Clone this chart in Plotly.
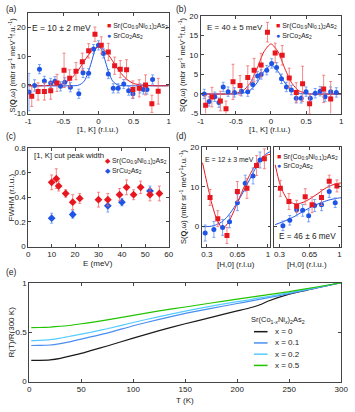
import plotly.graph_objects as go

W, H = 355, 412
FONT = "Liberation Sans, Arial, sans-serif"
RED = "#e8161e"
RED_ERR = "#f26b6b"
BLUE = "#1f55e6"
BLUE_ERR = "#5f8ff2"
TXT = "#222222"

# ---- (a) E = 10 meV, [1,K] cut ----
a_ni_k = [-0.95, -0.86, -0.77, -0.68, -0.59, -0.49, -0.41, -0.32, -0.23, -0.14, -0.05,
          0.04, 0.14, 0.23, 0.31, 0.40, 0.49, 0.58, 0.67, 0.76, 0.85]
a_ni_s = [-4.0, -2.3, -2.3, -2.0, 0.7, 5.1, 2.3, 4.8, 8.1, 11.9, 17.7,
          13.8, 11.5, 6.7, 5.5, 5.3, -1.6, -1.2, 0.0, -6.6, -2.2]
a_ni_err = [3.5, 3, 3, 3, 3, 6, 3, 3, 3, 2.5, 2.5, 3, 3, 3, 3, 3.5, 3, 3, 3.5, 3, 4.5]
a_co_k = [-0.99, -0.91, -0.84, -0.77, -0.68, -0.62, -0.54, -0.48, -0.40, -0.28, -0.22, -0.14,
          -0.07, 0.0, 0.07, 0.14, 0.21, 0.28, 0.36, 0.43, 0.49, 0.59, 0.64, 0.69, 0.77]
a_co_s = [-2.5, -0.2, 5.5, 1.4, 0.7, 1.3, -0.5, 0.9, -0.8, -3.1, 4.2, 4.1,
          12.5, 13.8, 11.0, 3.8, -1.2, -1.2, 0.3, -2.0, -3.1, -1.2, -1.6, -1.6, 1.9]
a_co_err = [6.5, 2] + [1.6] * 23
a_fit_k_ni = [-1, -0.8, -0.6, -0.5, -0.4, -0.3, -0.2, -0.1, 0, 0.1, 0.2, 0.3, 0.4, 0.5, 0.6, 0.8, 1]
a_fit_ni = [-0.3, -0.3, 0.0, 0.5, 2.0, 4.7, 8.4, 11.8, 13.3, 11.8, 8.4, 4.7, 2.0, 0.5, 0.0, -0.3, -0.3]
a_fit_k_co = [-1, -0.4, -0.3, -0.25, -0.2, -0.15, -0.1, -0.05, 0, 0.05, 0.1, 0.15, 0.2, 0.25, 0.3, 0.4, 1]
a_fit_co = [-0.3, -0.3, -0.2, 0.3, 1.4, 4.1, 8.0, 12.0, 13.7, 12.0, 8.0, 4.1, 1.4, 0.3, -0.2, -0.3, -0.3]

# ---- (b) E = 40 meV ----
b_ni_k = [-0.93, -0.84, -0.72, -0.64, -0.54, -0.44, -0.33, -0.24, -0.14, -0.05,
          0.06, 0.16, 0.26, 0.36, 0.45, 0.55, 0.75, 0.85]
b_ni_s = [-2.9, -0.8, -1.8, -3.8, 3.1, 2.2, 4.2, 6.1, 7.4, 15.8,
          10.5, 9.9, 4.1, 0.4, 2.6, -2.5, 1.3, -1.3]
b_ni_err = [2.5, 2.5, 2.5, 2, 4.5, 2.5, 3, 3, 3, 2.5, 2.5, 2.5, 2.5, 2.5, 4.5, 2.5, 3.5, 4.5]
b_co_k = [-0.95, -0.88, -0.8, -0.74, -0.68, -0.61, -0.52, -0.42, -0.33, -0.26, -0.19, -0.14,
          -0.06, 0.01, 0.08, 0.15, 0.22, 0.29, 0.36, 0.43, 0.5, 0.56, 0.63, 0.7, 0.77, 0.85, 0.93]
b_co_s = [0.0, -1.9, -0.7, -2.2, 1.8, 0.6, 0.4, 0.7, 0.6, 2.4, 4.6, 5.0,
          6.1, 7.8, 6.8, 3.9, 1.8, 1.0, -1.1, -1.1, 0.6, -1.1, 0.2, 0.7, -0.7, 0.6, 0.4]
b_co_err = [1.2] * 27
b_fit_k = [-1, -0.6, -0.5, -0.4, -0.3, -0.2, -0.1, 0, 0.1, 0.2, 0.3, 0.4, 0.5, 0.6, 1]
b_fit_ni = [0.0, 0.0, 0.2, 0.8, 2.7, 6.4, 10.8, 12.8, 10.8, 6.4, 2.7, 0.8, 0.2, 0.0, 0.0]
b_fit_co = [0.0, 0.0, 0.0, 0.2, 0.9, 2.8, 5.8, 7.3, 5.8, 2.8, 0.9, 0.2, 0.0, 0.0, 0.0]

# ---- (c) peak width vs energy ----
c_ni_e = [10, 12, 13, 16, 19, 22, 30, 34, 39, 42, 45, 48, 52, 56]
c_ni_w = [0.52, 0.55, 0.49, 0.43, 0.36, 0.39, 0.38, 0.38, 0.42, 0.48, 0.42, 0.48, 0.42, 0.43]
c_ni_err = [0.06, 0.08, 0.04, 0.03, 0.06, 0.04, 0.06, 0.05, 0.05, 0.06, 0.04, 0.05, 0.05, 0.06]
c_co_e = [10, 19, 34, 40, 52]
c_co_w = [0.23, 0.26, 0.33, 0.36, 0.45]
c_co_err = [0.04, 0.03, 0.05, 0.03, 0.04]

# ---- (d) [H,0] cuts ----
dl_ni_h = [0.336, 0.425, 0.53, 0.65, 0.76, 0.87, 0.96]
dl_ni_s = [7.3, 2.0, -2.2, 8.8, 9.6, 15.3, 17.0]
dl_ni_err = [2, 2, 2, 2.5, 2.5, 2.5, 2.5]
dl_co_h = [0.28, 0.38, 0.48, 0.56, 0.65, 0.74, 0.83, 0.91]
dl_co_s = [-1.6, -0.7, -0.2, 1.2, 6.0, 10.9, 12.7, 16.7]
dl_co_err = [2, 2, 2, 1.5, 2, 2, 2, 2]
d_fit_h = [0.25, 0.3, 0.35, 0.4, 0.45, 0.48, 0.5, 0.55, 0.6, 0.65, 0.7, 0.75, 0.8, 0.85, 0.9, 0.95, 1.0, 1.03]
dl_fit_ni = [16.0, 11.0, 6.3, 2.6, 0.3, -0.3, -0.2, 1.2, 3.4, 6.0, 8.6, 11.1, 13.3, 15.2, 16.6, 17.5, 18.0, 18.1]
dl_fit_co = [0.0, 0.0, 0.1, 0.4, 0.9, 1.3, 1.7, 2.9, 4.4, 6.1, 8.0, 10.1, 12.2, 14.3, 16.2, 17.7, 18.5, 18.8]
dr_ni_h = [0.31, 0.41, 0.5, 0.6, 0.68, 0.79, 0.88, 0.97]
dr_ni_s = [9.6, 6.3, 5.1, 7.5, 5.5, 7.3, 11.4, 10.2]
dr_ni_err = [2, 2, 1.5, 2, 2, 2, 1.5, 1.5]
dr_co_h = [0.34, 0.42, 0.5, 0.57, 0.64, 0.71, 0.79, 0.88, 0.95]
dr_co_s = [0.2, 1.6, 4.2, 4.1, 2.7, 5.3, 5.5, 8.8, 6.0]
dr_co_err = [1.2, 1.2, 1.5, 1.5, 1.5, 1.5, 1.5, 1.5, 1.2]
dr_fit_ni = [15.5, 11.0, 8.3, 6.6, 5.9, 5.7, 5.7, 5.9, 6.3, 6.9, 7.6, 8.3, 9.1, 9.8, 10.3, 10.7, 10.9, 11.0]
dr_fit_co = [0.5, 0.9, 1.3, 1.8, 2.3, 2.6, 2.9, 3.5, 4.1, 4.7, 5.2, 5.7, 6.1, 6.5, 6.8, 7.0, 7.2, 7.3]

# ---- (e) resistivity ----
e_t = [2, 10, 20, 30, 40, 50, 60, 75, 100, 125, 150, 175, 200, 210, 220, 230, 250, 275, 300]
e_x0 = [0.214, 0.215, 0.22, 0.235, 0.26, 0.285, 0.315, 0.36, 0.44, 0.515, 0.585, 0.65, 0.715,
        0.74, 0.77, 0.815, 0.885, 0.945, 1.0]
e_x01 = [0.365, 0.366, 0.37, 0.385, 0.405, 0.43, 0.455, 0.49, 0.565, 0.63, 0.69, 0.74, 0.79,
         0.81, 0.83, 0.85, 0.89, 0.945, 1.0]
e_x02 = [0.415, 0.417, 0.425, 0.44, 0.46, 0.48, 0.50, 0.535, 0.598, 0.658, 0.713, 0.763, 0.81,
         0.825, 0.845, 0.86, 0.9, 0.95, 1.0]
e_x05 = [0.545, 0.547, 0.552, 0.56, 0.57, 0.585, 0.6, 0.625, 0.67, 0.715, 0.755, 0.795, 0.835,
         0.85, 0.865, 0.88, 0.91, 0.955, 1.0]
e_labels = ["x = 0", "x = 0.1", "x = 0.2", "x = 0.5"]
e_colors = ["#1a1a1a", "#4a8ef0", "#55ccff", "#22c400"]

NI_NAME = "Sr(Co<sub>0.9</sub>Ni<sub>0.1</sub>)<sub>2</sub>As<sub>2</sub>"
CO_NAME = "SrCo<sub>2</sub>As<sub>2</sub>"
CU_NAME = "SrCu<sub>2</sub>As<sub>2</sub>"
S_TITLE = "S(<b>Q</b>,ω) (mbr sr<sup>-1</sup> meV<sup>-1</sup>f.u.<sup>-1</sup>)"

fig = go.Figure()


def fit(x, y, color, n):
    fig.add_trace(go.Scatter(
        x=x, y=y, mode="lines", xaxis=f"x{n}", yaxis=f"y{n}",
        line=dict(color=color, width=1, shape="spline", smoothing=0.7),
        showlegend=False, hoverinfo="skip",
    ))


def points(x, y, err, color, ecolor, symbol, size, n, xerr=None):
    fig.add_trace(go.Scatter(
        x=x, y=y, mode="markers", xaxis=f"x{n}", yaxis=f"y{n}",
        marker=dict(color=color, symbol=symbol, size=size, line=dict(width=0)),
        error_y=dict(type="data", array=err, color=ecolor, thickness=0.8, width=1.5),
        error_x=dict(type="constant", value=xerr or 0, color=ecolor, thickness=0.8, width=0,
                     visible=xerr is not None),
        showlegend=False,
    ))


# (a)
fit(a_fit_k_co, a_fit_co, BLUE, "")
fit(a_fit_k_ni, a_fit_ni, RED, "")
points(a_co_k, a_co_s, a_co_err, BLUE, BLUE_ERR, "circle", 5, "")
points(a_ni_k, a_ni_s, a_ni_err, RED, RED_ERR, "square", 5, "")
# (b)
fit(b_fit_k, b_fit_co, BLUE, 2)
fit(b_fit_k, b_fit_ni, RED, 2)
points(b_co_k, b_co_s, b_co_err, BLUE, BLUE_ERR, "circle", 5, 2)
points(b_ni_k, b_ni_s, b_ni_err, RED, RED_ERR, "square", 5, 2)
# (c)
points(c_co_e, c_co_w, c_co_err, BLUE, BLUE_ERR, "diamond", 6, 3, xerr=0.8)
points(c_ni_e, c_ni_w, c_ni_err, RED, RED_ERR, "diamond", 6, 3, xerr=0.8)
# (d)
fit(d_fit_h, dl_fit_co, BLUE, 4)
fit(d_fit_h, dl_fit_ni, RED, 4)
points(dl_co_h, dl_co_s, dl_co_err, BLUE, BLUE_ERR, "circle", 5, 4)
points(dl_ni_h, dl_ni_s, dl_ni_err, RED, RED_ERR, "square", 5, 4)
fit(d_fit_h, dr_fit_co, BLUE, 5)
fit(d_fit_h, dr_fit_ni, RED, 5)
points(dr_co_h, dr_co_s, dr_co_err, BLUE, BLUE_ERR, "circle", 5, 5)
points(dr_ni_h, dr_ni_s, dr_ni_err, RED, RED_ERR, "square", 5, 5)
# (e)
for ys, col, lab in zip([e_x0, e_x01, e_x02, e_x05], e_colors, e_labels):
    fig.add_trace(go.Scatter(
        x=e_t, y=ys, mode="lines", xaxis="x6", yaxis="y6", name=lab,
        line=dict(color=col, width=1.2, shape="spline", smoothing=0.5),
        showlegend=False,
    ))


def box(x0, x1, y0, y1):
    return [x0 / W, x1 / W], [1 - y1 / H, 1 - y0 / H]


base = dict(
    showline=True, linecolor="#444", linewidth=0.8, mirror="ticks",
    ticks="inside", ticklen=3, tickwidth=0.8, tickcolor="#444",
    showgrid=False, zeroline=False, tickfont=dict(size=8, color=TXT),
    ticklabeloverflow="allow",
)

panels = {
    "": (box(25, 170, 9.5, 112), [-1, 1], [-10, 25],
         [-1, -0.5, 0, 0.5, 1], ["-1", "-0.5", "0", "0.5", "1"],
         [-10, 0, 10, 20], ["-10", "0", "10", "20"]),
    "2": (box(203, 348, 12, 112), [-1, 1], [-5, 20],
          [-1, -0.5, 0, 0.5, 1], ["-1", "-0.5", "0", "0.5", "1"],
          [-5, 0, 5, 10, 15, 20], ["-5", "0", "5", "10", "15", "20"]),
    "3": (box(25, 170, 147, 248), [0, 60], [0, 0.8],
          [0, 10, 20, 30, 40, 50, 60], None,
          [0, 0.2, 0.4, 0.6, 0.8], ["0", "0.2", "0.4", "0.6", "0.8"]),
    "4": (box(204, 275, 146, 248), [0.24, 1.03], [-5, 20],
          [0.3, 0.65, 1], ["0.3", "0.65", "1"],
          [0, 10, 20], ["0", "10", "20"]),
    "5": (box(279, 348, 146, 248), [0.24, 1.02], [-5, 20],
          [0.3, 0.65, 1], ["0.3", "0.65", "1"],
          [0, 10, 20], None),
    "6": (box(26, 348, 285, 386), [0, 300], [0, 1],
          [0, 50, 100, 150, 200, 250, 300], None,
          [0, 0.5, 1], ["0", "0.5", "1"]),
}

layout = {}
for n, (dom, xr, yr, xt, xtt, yt, ytt) in panels.items():
    xd, yd = dom
    xa = dict(base, domain=xd, range=xr, tickvals=xt, anchor=f"y{n}")
    if xtt:
        xa["ticktext"] = xtt
    ya = dict(base, domain=yd, range=yr, tickvals=yt, anchor=f"x{n}")
    if ytt:
        ya["ticktext"] = ytt
    else:
        ya["showticklabels"] = n != "5"
    layout[f"xaxis{n}"] = xa
    layout[f"yaxis{n}"] = ya
fig.update_layout(**layout)

ann = []


def text(x, y, s, size=8, ref="paper", xanchor="left", yanchor="middle", angle=0):
    xref, yref = ref if isinstance(ref, tuple) else (ref, ref)
    ann.append(dict(x=x, y=y, xref=xref, yref=yref, text=s, showarrow=False,
                    xanchor=xanchor, yanchor=yanchor, textangle=angle, borderpad=0,
                    font=dict(size=size, color=TXT, family=FONT)))


def px(x, y):
    return x / W, 1 - y / H


# panel letters
for lab, (x, y) in zip(["(a)", "(b)", "(c)", "(d)", "(e)"],
                       [(1, 5), (176, 5), (1, 135), (176, 135), (1, 274)]):
    text(*px(x, y), lab, size=8.5)

# axis titles
text(*px(97, 128.5), "[1, K] (r.l.u.)", xanchor="center")
text(*px(275, 128.5), "[1, K] (r.l.u.)", xanchor="center")
text(*px(97, 265), "E (meV)", xanchor="center")
text(*px(239, 266), "[H,0] (r.l.u)", xanchor="center")
text(*px(313, 266), "[H,0] (r.l.u.)", xanchor="center")
text(*px(187, 405), "T (K)", xanchor="center")
text(*px(8, 62), S_TITLE, size=7.5, xanchor="center", angle=-90)
text(*px(183, 62), S_TITLE, size=7.5, xanchor="center", angle=-90)
text(*px(184, 197), S_TITLE, size=7.5, xanchor="center", angle=-90)
text(*px(8, 198), "FWHM (r.l.u.)", xanchor="center", angle=-90)
text(*px(8, 335), "R(T)/R(300 K)", xanchor="center", angle=-90)

# in-panel labels
text(0.02, 0.85, "E = 10 ± 2 meV", size=8.5, ref=("x domain", "y domain"))
text(0.035, 0.88, "E = 40 ± 5 meV", size=8, ref=("x2 domain", "y2 domain"))
text(0.035, 0.92, "[1, K] cut peak width", size=7.8, ref=("x3 domain", "y3 domain"))
text(0.03, 0.87, "E = 12 ± 3 meV", size=7, ref=("x4 domain", "y4 domain"))
text(0.5, 0.1, "E = 46 ± 6 meV", size=8.2, ref=("x5 domain", "y5 domain"), xanchor="center")


def key(sym, color, name, x, y, ref):
    text(x, y, f"<span style='color:{color}'>{sym}</span> {name}", size=7, ref=ref)


key("■", RED, NI_NAME, 0.55, 0.87, ("x domain", "y domain"))
key("●", BLUE, CO_NAME, 0.55, 0.775, ("x domain", "y domain"))
key("■", RED, NI_NAME, 0.53, 0.89, ("x2 domain", "y2 domain"))
key("●", BLUE, CO_NAME, 0.53, 0.79, ("x2 domain", "y2 domain"))
key("◆", RED, NI_NAME, 0.54, 0.87, ("x3 domain", "y3 domain"))
key("◆", BLUE, CU_NAME, 0.54, 0.76, ("x3 domain", "y3 domain"))
key("■", RED, NI_NAME, 0.03, 0.9, ("x5 domain", "y5 domain"))
key("●", BLUE, CO_NAME, 0.03, 0.81, ("x5 domain", "y5 domain"))

# (e) legend
text(*px(254, 323), "Sr(Co<sub>1-<i>x</i></sub>Ni<sub><i>x</i></sub>)<sub>2</sub>As<sub>2</sub>", size=7.5)
shapes = []
for i, (lab, col) in enumerate(zip(e_labels, e_colors)):
    yy = 335 + i * 11.5
    x0, y0 = px(258, yy)
    x1, _ = px(272, yy)
    shapes.append(dict(type="line", xref="paper", yref="paper", x0=x0, x1=x1, y0=y0, y1=y0,
                       line=dict(color=col, width=1.5)))
    text(*px(279, yy), lab, size=8)

fig.update_layout(
    width=W, height=H,
    margin=dict(l=0, r=0, t=0, b=0),
    paper_bgcolor="white", plot_bgcolor="white",
    font=dict(family=FONT, color=TXT, size=8),
    annotations=ann, shapes=shapes,
    showlegend=False,
)

# the page body keeps its default 8px margin otherwise
fig.write_html("out.html", config={"displayModeBar": False},
               post_script="document.body.style.margin='0';")
